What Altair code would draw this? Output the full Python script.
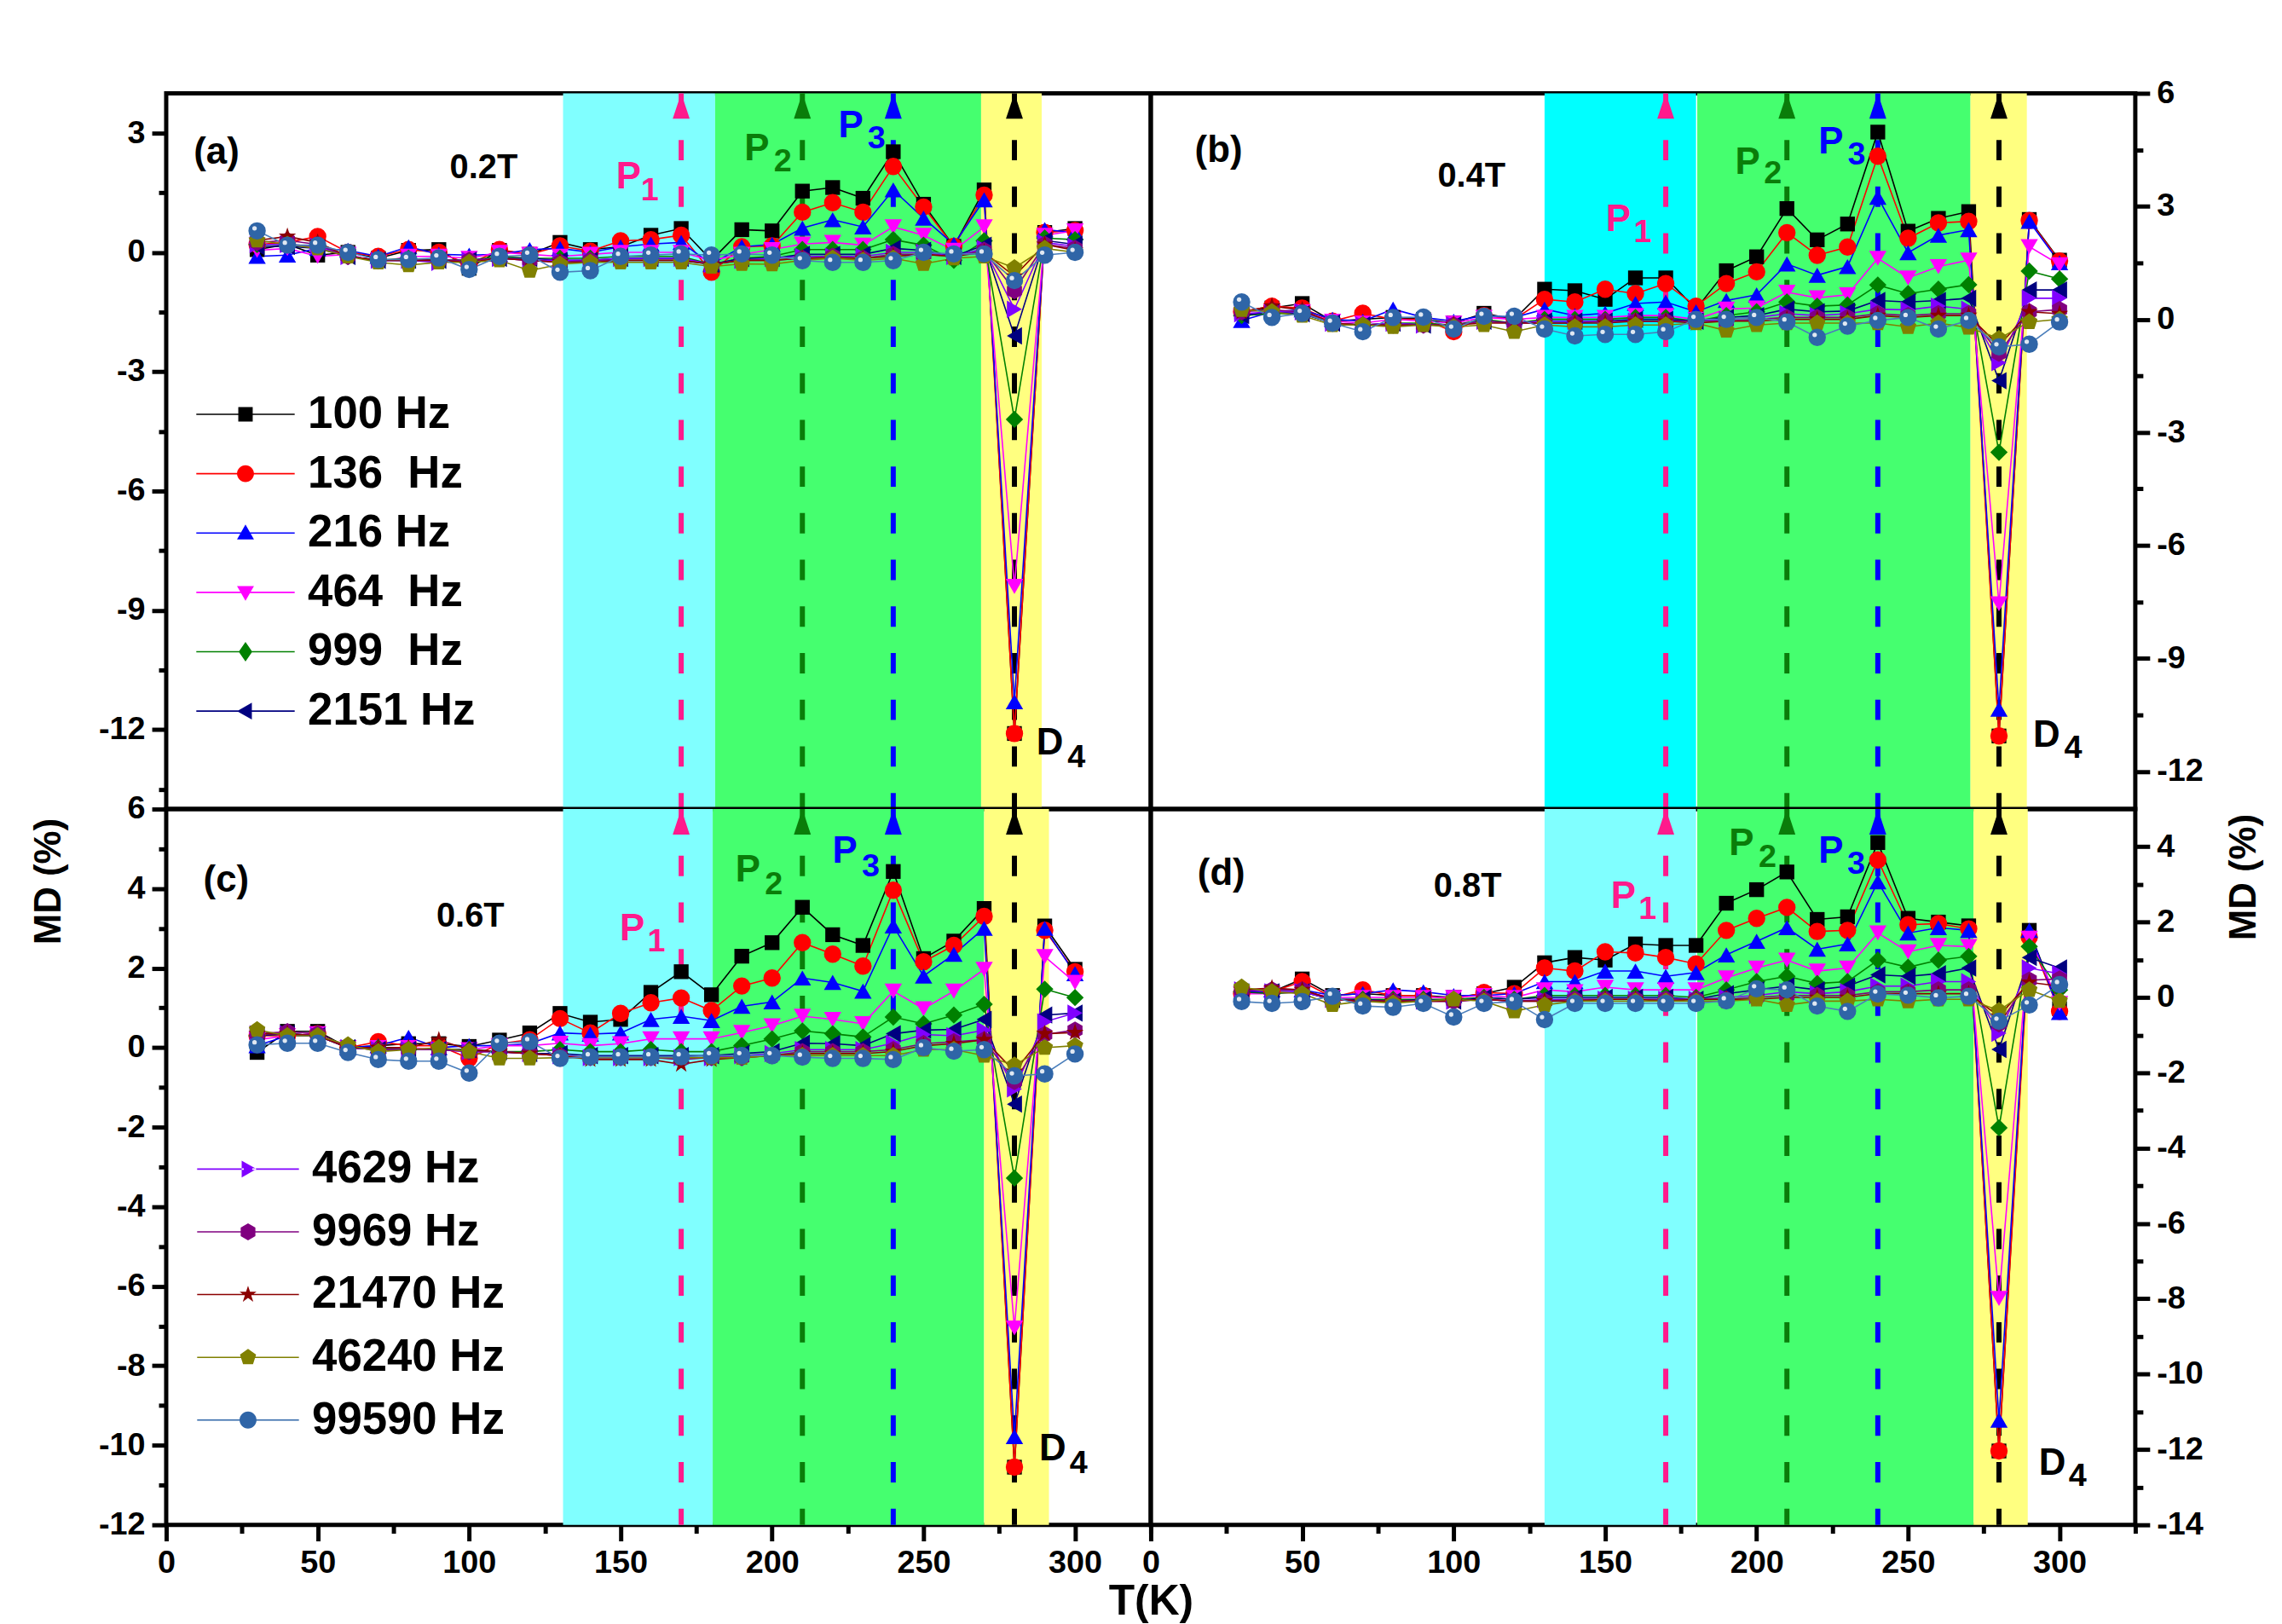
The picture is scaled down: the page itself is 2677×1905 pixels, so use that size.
import altair as alt
import pandas as pd

FONT = "Liberation Sans"
W, H = 1161, 844

TEMPS = [30, 40, 50, 60, 70, 80, 90, 100, 110, 120, 130, 140, 150, 160,
         170, 180, 190, 200, 210, 220, 230, 240, 250, 260, 270, 280, 290, 300]

SERIES = ["100 Hz", "136\u00a0 Hz", "216 Hz", "464\u00a0 Hz", "999\u00a0 Hz",
          "2151 Hz", "4629 Hz", "9969 Hz", "21470 Hz", "46240 Hz", "99590 Hz"]
MARKER_COLORS = ["#000000", "#FF0000", "#0000FF", "#FF00FF", "#008000", "#000080",
                 "#8000FF", "#800080", "#8B0000", "#808000", "#2F65A7"]
LINE_COLORS = ["#000000", "#FF0000", "#0000FF", "#FF00FF", "#008000", "#000080",
               "#8000FF", "#800080", "#8B0000", "#808000", "#4A7EBB"]

# ---- panel (a) 0.2T ----
MD_02T = [
    [0.07, 0.20, -0.07, 0.00, -0.15, 0.05, 0.07, -0.40, 0.05, -0.05, 0.25, 0.07, 0.14, 0.43, 0.60, -0.20, 0.57, 0.54, 1.54, 1.63, 1.36, 2.53, 1.21, 0.15, 1.57, -12.1, 0.50, 0.60],
    [0.20, 0.25, 0.40, 0.00, -0.10, 0.07, 0.00, -0.30, 0.07, -0.05, 0.16, 0.03, 0.29, 0.32, 0.43, -0.50, 0.14, 0.16, 1.01, 1.25, 1.01, 2.16, 1.14, 0.15, 1.44, -12.1, 0.50, 0.55],
    [-0.10, -0.07, 0.10, 0.05, -0.10, 0.14, -0.05, -0.07, -0.05, 0.07, 0.10, 0.00, 0.14, 0.21, 0.25, -0.30, 0.14, 0.20, 0.61, 0.82, 0.64, 1.57, 0.86, 0.20, 1.32, -11.3, 0.57, 0.50],
    [0.05, 0.10, -0.10, -0.05, -0.25, -0.10, -0.10, -0.15, 0.00, -0.05, -0.10, -0.05, 0.00, 0.00, 0.00, -0.20, -0.05, 0.07, 0.21, 0.25, 0.18, 0.64, 0.43, 0.05, 0.64, -8.4, 0.43, 0.54],
    [0.20, 0.20, 0.15, -0.10, -0.20, -0.15, -0.20, -0.20, -0.10, -0.15, -0.15, -0.15, -0.10, -0.10, -0.10, -0.30, -0.15, -0.10, 0.07, 0.07, 0.07, 0.32, 0.18, -0.20, 0.29, -4.2, 0.36, 0.32],
    [0.15, 0.15, 0.10, -0.10, -0.20, -0.20, -0.20, -0.20, -0.15, -0.15, -0.20, -0.20, -0.15, -0.15, -0.15, -0.30, -0.15, -0.15, -0.05, -0.05, -0.05, 0.10, 0.05, -0.10, 0.18, -2.1, 0.30, 0.20],
    [0.20, 0.20, 0.15, -0.10, -0.20, -0.20, -0.25, -0.20, -0.15, -0.20, -0.20, -0.20, -0.15, -0.15, -0.15, -0.30, -0.20, -0.15, -0.10, -0.10, -0.10, 0.00, 0.00, -0.10, 0.10, -1.43, 0.25, 0.15],
    [0.25, 0.30, 0.20, -0.10, -0.20, -0.20, -0.20, -0.20, -0.15, -0.20, -0.25, -0.20, -0.20, -0.20, -0.20, -0.30, -0.20, -0.20, -0.15, -0.10, -0.15, -0.05, -0.05, -0.10, 0.05, -0.96, 0.20, 0.10],
    [0.30, 0.40, 0.25, -0.10, -0.20, -0.20, -0.20, -0.25, -0.15, -0.20, -0.25, -0.25, -0.20, -0.20, -0.20, -0.30, -0.20, -0.20, -0.15, -0.15, -0.15, -0.10, -0.05, -0.10, 0.00, -0.60, 0.20, 0.05],
    [0.30, 0.20, 0.10, -0.10, -0.25, -0.32, -0.25, -0.25, -0.20, -0.46, -0.30, -0.25, -0.25, -0.25, -0.25, -0.36, -0.29, -0.30, -0.20, -0.15, -0.20, -0.15, -0.29, -0.15, -0.10, -0.39, 0.10, 0.00],
    [0.54, 0.18, 0.18, 0.00, -0.18, -0.18, -0.14, -0.43, -0.10, -0.07, -0.50, -0.46, -0.10, -0.07, -0.04, -0.07, -0.04, -0.07, -0.21, -0.25, -0.25, -0.21, 0.00, -0.04, -0.04, -0.71, -0.07, 0.00],
]

# ---- panel (b) 0.4T ----
MD_04T = [
    [0.20, 0.30, 0.42, -0.05, 0.00, 0.05, 0.00, -0.10, 0.16, 0.00, 0.80, 0.76, 0.53, 1.10, 1.10, 0.27, 1.29, 1.66, 2.94, 2.11, 2.53, 4.97, 2.34, 2.68, 2.86, -11.06, 2.65, 1.57],
    [0.20, 0.35, 0.30, -0.05, 0.16, 0.00, 0.00, -0.33, 0.10, 0.00, 0.53, 0.46, 0.80, 0.68, 0.95, 0.35, 0.95, 1.26, 2.30, 1.70, 1.92, 4.33, 2.15, 2.56, 2.60, -11.06, 2.62, 1.55],
    [-0.03, 0.20, 0.25, 0.00, -0.05, 0.27, 0.05, -0.05, 0.10, 0.05, 0.27, 0.10, 0.16, 0.42, 0.46, 0.20, 0.50, 0.65, 1.47, 1.17, 1.40, 3.24, 1.77, 2.23, 2.38, -10.35, 2.60, 1.50],
    [0.10, 0.20, 0.20, -0.05, -0.10, 0.00, -0.05, -0.10, 0.05, 0.00, 0.05, 0.05, 0.05, 0.10, 0.10, 0.00, 0.27, 0.30, 0.72, 0.57, 0.65, 1.62, 1.10, 1.40, 1.57, -7.55, 1.93, 1.45],
    [0.10, 0.15, 0.15, -0.10, -0.15, -0.10, -0.10, -0.15, 0.00, -0.10, 0.00, 0.00, 0.00, 0.05, 0.05, -0.05, 0.10, 0.20, 0.46, 0.35, 0.38, 0.91, 0.68, 0.80, 0.92, -3.53, 1.28, 1.07],
    [0.10, 0.20, 0.15, -0.10, -0.15, -0.10, -0.15, -0.15, -0.05, -0.10, -0.05, -0.05, -0.05, 0.00, 0.00, -0.05, 0.05, 0.10, 0.27, 0.20, 0.22, 0.50, 0.46, 0.50, 0.56, -1.63, 0.78, 0.78],
    [0.15, 0.20, 0.20, -0.10, -0.15, -0.10, -0.15, -0.15, -0.05, -0.10, -0.05, -0.05, -0.05, -0.05, -0.05, -0.05, 0.00, 0.05, 0.15, 0.10, 0.15, 0.27, 0.25, 0.35, 0.27, -1.15, 0.56, 0.56],
    [0.20, 0.25, 0.20, -0.10, -0.15, -0.15, -0.15, -0.15, -0.05, -0.10, -0.10, -0.10, -0.05, -0.05, -0.05, -0.05, -0.05, 0.00, 0.05, 0.05, 0.05, 0.15, 0.10, 0.15, 0.15, -0.90, 0.20, 0.26],
    [0.20, 0.35, 0.25, -0.10, -0.15, -0.15, -0.15, -0.15, -0.10, -0.10, -0.10, -0.10, -0.10, -0.05, -0.05, -0.10, -0.05, -0.05, 0.00, 0.00, 0.00, 0.10, 0.05, 0.10, 0.10, -0.70, 0.20, 0.15],
    [0.25, 0.20, 0.10, -0.15, -0.15, -0.20, -0.15, -0.20, -0.15, -0.33, -0.15, -0.20, -0.20, -0.15, -0.15, -0.10, -0.30, -0.15, -0.10, -0.10, -0.10, -0.10, -0.20, -0.10, -0.22, -0.51, -0.07, 0.00],
    [0.46, 0.05, 0.16, -0.10, -0.33, 0.05, 0.06, -0.26, 0.08, 0.08, -0.26, -0.44, -0.40, -0.40, -0.33, 0.00, 0.00, 0.05, -0.07, -0.48, -0.18, -0.03, 0.05, -0.26, -0.03, -0.73, -0.66, -0.07],
]

# ---- panel (c) 0.6T ----
MD_06T = [
    [-0.12, 0.41, 0.41, 0.00, 0.05, 0.10, 0.10, 0.03, 0.19, 0.37, 0.86, 0.64, 0.71, 1.39, 1.91, 1.33, 2.30, 2.64, 3.53, 2.84, 2.57, 4.43, 2.24, 2.68, 3.50, -10.55, 3.06, 1.97],
    [0.30, 0.30, 0.35, 0.00, 0.15, 0.05, 0.05, -0.27, 0.10, 0.20, 0.73, 0.37, 0.86, 1.13, 1.25, 0.93, 1.55, 1.75, 2.64, 2.35, 2.05, 3.96, 2.16, 2.57, 3.30, -10.55, 2.95, 1.91],
    [0.05, 0.30, 0.30, 0.00, 0.05, 0.26, 0.00, 0.05, 0.05, 0.10, 0.37, 0.34, 0.37, 0.71, 0.79, 0.68, 1.04, 1.15, 1.75, 1.64, 1.42, 3.06, 1.80, 2.35, 3.00, -9.78, 3.00, 1.86],
    [0.20, 0.30, 0.35, 0.00, 0.00, 0.00, -0.05, -0.05, 0.05, 0.05, 0.11, 0.05, 0.10, 0.22, 0.22, 0.22, 0.38, 0.55, 0.79, 0.71, 0.60, 1.42, 0.98, 1.42, 1.97, -7.05, 2.29, 1.64],
    [0.30, 0.35, 0.30, 0.00, 0.00, -0.05, -0.05, -0.05, -0.10, -0.10, -0.05, -0.10, -0.10, -0.05, -0.10, -0.10, 0.05, 0.22, 0.42, 0.35, 0.27, 0.77, 0.60, 0.82, 1.09, -3.28, 1.47, 1.26],
    [0.30, 0.35, 0.30, 0.00, -0.05, -0.05, -0.05, -0.05, -0.10, -0.15, -0.15, -0.20, -0.20, -0.20, -0.20, -0.20, -0.15, -0.10, 0.11, 0.10, 0.05, 0.35, 0.44, 0.46, 0.71, -1.42, 0.82, 0.87],
    [0.35, 0.35, 0.30, 0.00, -0.05, -0.05, -0.05, -0.10, -0.10, -0.15, -0.20, -0.25, -0.25, -0.25, -0.25, -0.25, -0.20, -0.15, -0.05, -0.05, -0.05, 0.11, 0.33, 0.30, 0.44, -1.04, 0.65, 0.87],
    [0.35, 0.40, 0.35, 0.00, -0.05, -0.05, -0.05, -0.10, -0.10, -0.15, -0.20, -0.25, -0.25, -0.25, -0.30, -0.25, -0.25, -0.20, -0.10, -0.10, -0.10, -0.05, 0.10, 0.15, 0.20, -0.85, 0.33, 0.44],
    [0.35, 0.35, 0.30, 0.00, 0.00, 0.00, 0.19, -0.05, -0.10, -0.15, -0.20, -0.30, -0.30, -0.30, -0.42, -0.30, -0.25, -0.20, -0.15, -0.15, -0.15, -0.10, 0.05, 0.10, 0.20, -0.60, 0.35, 0.38],
    [0.45, 0.30, 0.30, 0.07, -0.10, -0.05, 0.00, -0.10, -0.27, -0.27, -0.25, -0.25, -0.25, -0.25, -0.25, -0.25, -0.25, -0.20, -0.20, -0.20, -0.20, -0.20, -0.05, -0.05, -0.20, -0.44, 0.00, 0.05],
    [0.07, 0.11, 0.11, -0.12, -0.30, -0.34, -0.34, -0.64, 0.11, 0.15, -0.27, -0.23, -0.23, -0.23, -0.23, -0.20, -0.20, -0.20, -0.24, -0.27, -0.27, -0.30, 0.00, -0.09, -0.05, -0.71, -0.66, -0.16],
]

# ---- panel (d) 0.8T ----
MD_08T = [
    [0.10, 0.15, 0.49, 0.05, 0.10, 0.05, 0.05, 0.00, 0.10, 0.27, 0.92, 1.06, 0.99, 1.42, 1.38, 1.38, 2.50, 2.86, 3.33, 2.07, 2.14, 4.11, 2.10, 2.00, 1.90, -12.04, 1.78, -0.30],
    [0.10, 0.15, 0.42, 0.00, 0.20, 0.05, 0.05, -0.05, 0.13, 0.10, 0.78, 0.70, 1.21, 1.18, 1.06, 0.89, 1.78, 2.10, 2.39, 1.75, 1.78, 3.65, 1.93, 1.96, 1.82, -12.04, 1.60, -0.37],
    [0.15, 0.20, 0.20, 0.05, 0.10, 0.20, 0.15, 0.05, 0.05, 0.10, 0.42, 0.42, 0.70, 0.70, 0.56, 0.66, 1.13, 1.49, 1.85, 1.28, 1.42, 3.07, 1.71, 1.85, 1.78, -11.22, 1.78, -0.40],
    [0.10, 0.10, 0.15, 0.00, 0.00, 0.00, 0.00, 0.00, 0.05, 0.00, 0.20, 0.15, 0.27, 0.20, 0.20, 0.20, 0.52, 0.78, 0.99, 0.70, 0.78, 1.71, 1.21, 1.38, 1.35, -7.99, 1.57, -0.16],
    [0.15, 0.10, 0.15, -0.05, -0.05, -0.05, -0.05, -0.05, 0.00, -0.05, 0.05, 0.05, 0.05, 0.05, 0.05, 0.00, 0.20, 0.42, 0.56, 0.37, 0.42, 0.99, 0.80, 0.99, 1.09, -3.46, 1.35, 0.20],
    [0.15, 0.15, 0.15, -0.05, -0.05, -0.10, -0.05, -0.10, 0.00, -0.05, 0.00, 0.00, 0.00, 0.00, 0.00, -0.05, 0.10, 0.20, 0.30, 0.20, 0.30, 0.60, 0.56, 0.63, 0.78, -1.38, 1.06, 0.78],
    [0.20, 0.15, 0.15, -0.05, -0.10, -0.10, -0.10, -0.10, -0.05, -0.10, -0.05, -0.05, -0.05, -0.05, -0.05, -0.05, 0.00, 0.05, 0.15, 0.10, 0.15, 0.30, 0.30, 0.42, 0.42, -0.95, 0.78, 0.63],
    [0.20, 0.20, 0.20, -0.05, -0.10, -0.10, -0.10, -0.10, -0.05, -0.10, -0.10, -0.05, -0.05, -0.05, -0.05, -0.05, -0.05, 0.00, 0.05, 0.05, 0.05, 0.15, 0.15, 0.20, 0.20, -0.70, 0.46, 0.49],
    [0.20, 0.25, 0.20, -0.05, -0.10, -0.10, -0.10, -0.10, -0.05, -0.10, -0.10, -0.10, -0.05, -0.05, -0.10, -0.05, -0.05, -0.05, 0.00, 0.00, 0.00, 0.10, 0.10, 0.10, 0.10, -0.50, 0.40, 0.30],
    [0.27, 0.15, 0.10, -0.20, -0.10, -0.15, -0.10, -0.05, -0.10, -0.37, -0.20, -0.10, -0.10, -0.10, -0.10, -0.10, -0.10, -0.05, -0.20, -0.10, -0.10, -0.05, -0.10, -0.05, -0.05, -0.35, 0.20, -0.09],
    [-0.11, -0.16, -0.11, 0.03, -0.23, -0.26, -0.16, -0.52, -0.16, -0.11, -0.59, -0.16, -0.16, -0.16, -0.16, -0.16, -0.09, 0.23, 0.20, -0.23, -0.37, 0.09, 0.06, -0.01, 0.03, -0.63, -0.20, 0.34],
]

# shaded temperature ranges (start, end, colour)
CYAN_L, CYAN, GREEN, YELLOW = "#80FFFF", "#00FFFF", "#45FF6F", "#FFFF80"
REG_A = [(131, 181.2, CYAN_L), (181.2, 269, GREEN), (269, 289, YELLOW)]
REG_B = [(130, 180, CYAN), (180.4, 270.6, GREEN), (270.6, 289.2, YELLOW)]
REG_C = [(131, 180.4, CYAN_L), (180.4, 270, GREEN), (270, 291.4, YELLOW)]
REG_D = [(130, 180, CYAN_L), (180.4, 271.6, GREEN), (271.6, 289.5, YELLOW)]

PINK, DGREEN, BLUE = "#FF1A8C", "#0A7D0A", "#0000FF"
REF_T = [170, 210, 240, 280]
REF_COLORS = [PINK, DGREEN, BLUE, "#000000"]

# annotation texts: (text, T, MD, colour, font size)
ANN_A = [("(a)", 16.6, 2.5, "black", 44), ("0.2T", 104.8, 2.12, "black", 40),
         ("P", 152.6, 1.88, PINK, 44), ("1", 159.6, 1.54, PINK, 38),
         ("P", 195.0, 2.60, DGREEN, 44), ("2", 203.5, 2.27, DGREEN, 38),
         ("P", 226.0, 3.17, BLUE, 44), ("3", 234.5, 2.84, BLUE, 38),
         ("D", 291.7, -12.36, "black", 44), ("4", 300.5, -12.72, "black", 38)]
ANN_B = [("(b)", 22.4, 4.48, "black", 44), ("0.4T", 105.9, 3.8, "black", 40),
         ("P", 154.3, 2.63, PINK, 44), ("1", 162.4, 2.29, PINK, 38),
         ("P", 197.0, 4.16, DGREEN, 44), ("2", 205.4, 3.85, DGREEN, 38),
         ("P", 224.5, 4.69, BLUE, 44), ("3", 233.0, 4.35, BLUE, 38),
         ("D", 295.7, -11.06, "black", 44), ("4", 304.5, -11.4, "black", 38)]
ANN_C = [("(c)", 19.8, 4.2, "black", 44), ("0.6T", 100.4, 3.3, "black", 40),
         ("P", 153.8, 2.97, PINK, 44), ("1", 161.8, 2.65, PINK, 38),
         ("P", 192.0, 4.46, DGREEN, 44), ("2", 200.6, 4.10, DGREEN, 38),
         ("P", 224.0, 4.92, BLUE, 44), ("3", 232.6, 4.54, BLUE, 38),
         ("D", 292.6, -10.1, "black", 44), ("4", 301.2, -10.46, "black", 38)]
ANN_D = [("(d)", 23.3, 3.29, "black", 44), ("0.8T", 104.6, 2.93, "black", 40),
         ("P", 156.0, 2.68, PINK, 44), ("1", 164.0, 2.33, PINK, 38),
         ("P", 195.0, 4.08, DGREEN, 44), ("2", 203.6, 3.72, DGREEN, 38),
         ("P", 224.5, 3.86, BLUE, 44), ("3", 232.9, 3.54, BLUE, 38),
         ("D", 297.6, -12.37, "black", 44), ("4", 306.0, -12.73, "black", 38)]

# marker shapes
SQUARE = "M-0.85,-0.85H0.85V0.85H-0.85Z"
CIRCLE = "M-1,0A1,1,0,1,1,1,0A1,1,0,1,1,-1,0Z"
HEX = "M0,-1L0.866,-0.5L0.866,0.5L0,1L-0.866,0.5L-0.866,-0.5Z"
STAR = ("M0,-1.05L0.236,-0.325L0.999,-0.325L0.382,0.124L0.618,0.85L0,0.401"
        "L-0.618,0.85L-0.382,0.124L-0.999,-0.325L-0.236,-0.325Z")
PENT = "M0,-1L0.951,-0.309L0.588,0.809L-0.588,0.809L-0.951,-0.309Z"
SHAPES = [SQUARE, "circle", "triangle-up", "triangle-down", "diamond",
          "triangle-left", "triangle-right", HEX, STAR, PENT, "circle"]
LEG_MARK = [SQUARE, CIRCLE, "M0,-1L1,0.75L-1,0.75Z", "M0,1L-1,-0.75L1,-0.75Z",
            "M0,-1.15L0.8,0L0,1.15L-0.8,0Z", "M-1,0L0.75,-1L0.75,1Z",
            "M1,0L-0.75,-1L-0.75,1Z", HEX, STAR, PENT, CIRCLE]
ARROW = "M0,0L1,3L-1,3Z"

LABEL_EXPR = "datum.value < 0 ? '-' + abs(datum.value) : '' + datum.value"


def y_axis(orient, values, major=True, title=None, tx=0, ty=0):
    kw = dict(orient=orient, values=values, tickWidth=5, tickColor="black",
              domain=False, grid=False)
    if major:
        kw.update(tickSize=17, labelFont=FONT, labelFontSize=38, labelFontWeight="bold",
                  labelColor="black", labelPadding=8, labelExpr=LABEL_EXPR,
                  labelOverlap=False, labelFlush=False)
    else:
        kw.update(tickSize=9, labels=False)
    if title:
        kw.update(title=title, titleX=tx, titleY=ty, titleAngle=270, titleFont=FONT,
                  titleFontSize=44, titleFontWeight="bold", titleColor="black",
                  titleAlign="center", titleBaseline="middle")
    else:
        kw["title"] = None
    return alt.Axis(**kw)


def x_axis(major=True, title=None):
    kw = dict(orient="bottom", tickWidth=5, tickColor="black", domain=False, grid=False)
    if major:
        kw.update(values=[0, 50, 100, 150, 200, 250, 300], tickSize=19, labelFont=FONT,
                  labelFontSize=38, labelFontWeight="bold", labelColor="black",
                  labelPadding=7, labelFlush=False, labelOverlap=False)
    else:
        kw.update(values=[25, 75, 125, 175, 225, 275, 325], tickSize=10, labels=False)
    if title:
        kw.update(title=title, titleX=W, titleY=90, titleFont=FONT, titleFontSize=50,
                  titleFontWeight="bold", titleColor="black", titleAlign="center",
                  titleBaseline="middle")
    else:
        kw["title"] = None
    return alt.Axis(**kw)


def panel(rows, ydom, ymaj, ymin, yorient, bottom, regions, ann,
          ytitle=None, xtitle=None, legend=None):
    df = pd.DataFrame([{"T": t, "MD": v, "series": s}
                       for s, row in zip(SERIES, rows) for t, v in zip(TEMPS, row)])
    xs = alt.Scale(domain=[0, 325], nice=False, zero=False)
    ys = alt.Scale(domain=ydom, nice=False, zero=False)

    reg = pd.DataFrame(regions, columns=["x1", "x2", "c"])
    rect = alt.Chart(reg).mark_rect().encode(
        x=alt.X("x1:Q", scale=xs, axis=None), x2="x2:Q",
        fill=alt.Fill("c:N", scale=None))

    refs = pd.DataFrame({"T": REF_T, "c": REF_COLORS, "top": [ydom[1]] * len(REF_T)})
    rules = alt.Chart(refs).mark_rule(strokeWidth=6, strokeDash=[24, 31]).encode(
        x=alt.X("T:Q", scale=xs, axis=None), stroke=alt.Stroke("c:N", scale=None))
    arrows = alt.Chart(refs).mark_point(filled=True, size=400, opacity=1, strokeWidth=0,
                                        shape=ARROW).encode(
        x=alt.X("T:Q", scale=xs, axis=None), y=alt.Y("top:Q", scale=ys, axis=None),
        fill=alt.Fill("c:N", scale=None))

    ytit = ytitle or {}
    lines = alt.Chart(df).mark_line(strokeWidth=1.6).encode(
        x=alt.X("T:Q", scale=xs, axis=x_axis(True, xtitle) if bottom else None),
        y=alt.Y("MD:Q", scale=ys, axis=y_axis(yorient, ymaj, True, **ytit)),
        stroke=alt.Stroke("series:N", scale=alt.Scale(domain=SERIES, range=LINE_COLORS),
                          legend=None))
    pts = alt.Chart(df).mark_point(filled=True, size=420, opacity=1, strokeWidth=0).encode(
        x=alt.X("T:Q", scale=xs, axis=None), y=alt.Y("MD:Q", scale=ys, axis=None),
        shape=alt.Shape("series:N", scale=alt.Scale(domain=SERIES, range=SHAPES), legend=None),
        fill=alt.Fill("series:N", scale=alt.Scale(domain=SERIES, range=MARKER_COLORS),
                      legend=None))
    hl = alt.Chart(df[df["series"] == SERIES[-1]]).mark_point(
        filled=True, size=28, color="white", opacity=0.85, strokeWidth=0,
        shape="circle", xOffset=-3, yOffset=-3).encode(
        x=alt.X("T:Q", scale=xs, axis=None), y=alt.Y("MD:Q", scale=ys, axis=None))

    annd = pd.DataFrame(ann, columns=["text", "T", "v", "c", "s"])
    txt = alt.Chart(annd).mark_text(font=FONT, fontWeight="bold", align="center",
                                    baseline="middle").encode(
        x=alt.X("T:Q", scale=xs, axis=None), y=alt.Y("v:Q", scale=ys, axis=None),
        text="text:N", color=alt.Color("c:N", scale=None), size=alt.Size("s:Q", scale=None))

    minor = alt.Chart(df).mark_point(opacity=0, size=1).encode(
        x=alt.X("T:Q", scale=xs, axis=x_axis(False) if bottom else None),
        y=alt.Y("MD:Q", scale=ys, axis=y_axis(yorient, ymin, False)))

    layers = [rect, rules, arrows, lines, pts, hl, txt, minor]

    if legend:
        names, L, lx, ly, rowpad, loff = legend
        idx = [SERIES.index(n) for n in names]
        lshapes = [f"M{-L},-0.08H-0.5V0.08H{-L}Z M0.5,-0.08H{L}V0.08H0.5Z {LEG_MARK[i]}"
                   for i in idx]
        leg = alt.Legend(title=None, orient="none", legendX=lx, legendY=ly, symbolSize=400,
                         symbolOpacity=1, symbolStrokeWidth=0, labelFont=FONT,
                         labelFontSize=53, labelFontWeight="bold", labelColor="black",
                         labelOffset=loff, rowPadding=rowpad, padding=0, labelLimit=1000)
        lg = alt.Chart(df[df["series"].isin(names)]).mark_point(
            filled=True, opacity=0, size=400).encode(
            x=alt.X("T:Q", scale=xs, axis=None), y=alt.Y("MD:Q", scale=ys, axis=None),
            shape=alt.Shape("series:N", scale=alt.Scale(domain=names, range=lshapes), legend=leg),
            fill=alt.Fill("series:N", scale=alt.Scale(domain=names,
                                                      range=[MARKER_COLORS[i] for i in idx]),
                          legend=leg))
        layers.append(lg)

    return (alt.layer(*layers)
            .resolve_scale(shape="independent", fill="independent")
            .resolve_axis(x="independent", y="independent")
            .properties(width=W, height=H))


pa = panel(MD_02T, [-14, 4], [-12, -9, -6, -3, 0, 3], [-13.5, -10.5, -7.5, -4.5, -1.5, 1.5],
           "left", False, REG_A, ANN_A,
           legend=(SERIES[:6], 5.8, 67, 352, 16, 47))
pb = panel(MD_04T, [-13, 6], [-12, -9, -6, -3, 0, 3, 6], [-10.5, -7.5, -4.5, -1.5, 1.5, 4.5],
           "right", False, REG_B, ANN_B)
pc = panel(MD_06T, [-12, 6], [-12, -10, -8, -6, -4, -2, 0, 2, 4, 6],
           [-11, -9, -7, -5, -3, -1, 1, 3, 5], "left", True, REG_C, ANN_C,
           ytitle=dict(title="MD (%)", tx=-138, ty=85), xtitle="T(K)",
           legend=(SERIES[6:], 6.0, 70, 398, 20, 49))
pd_ = panel(MD_08T, [-14, 5], [-14, -12, -10, -8, -6, -4, -2, 0, 2, 4],
            [-13, -11, -9, -7, -5, -3, -1, 1, 3], "right", True, REG_D, ANN_D,
            ytitle=dict(title="MD (%)", tx=128, ty=80))

RES = dict(shape="independent", fill="independent", stroke="independent")
chart = (alt.concat(pa, pb, pc, pd_, columns=2, spacing=0, bounds="flush")
         .resolve_scale(**RES)
         .properties(padding={"left": 33, "top": 83, "right": 20, "bottom": 6},
                     background="white")
         .configure_view(stroke="black", strokeWidth=5))

chart.save("out.html", embed_options={"renderer": "svg", "actions": False})
